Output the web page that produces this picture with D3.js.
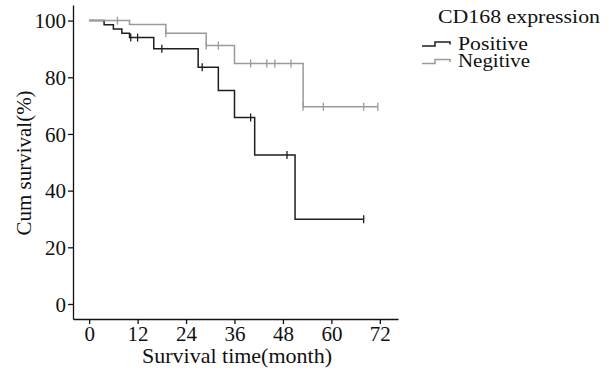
<!DOCTYPE html>
<html>
<head>
<meta charset="utf-8">
<script src="https://cdn.jsdelivr.net/npm/d3@7"></script>
<style>
  body { margin: 0; background: #fff; }
  text { font-family: "Liberation Serif", "Times New Roman", serif; fill: #111; }
</style>
</head>
<body>
<div id="chart"></div>
<script>
// Kaplan-Meier steps (time in months, survival in %)
var posTimes = [3.7, 6, 8.1, 10, 16, 27, 32, 36, 41, 51];
var posSurv = [98.5, 97, 95.5, 94, 90.1, 83.5, 75.3, 65.8, 52.6, 29.9];
var posCensor = [10.3, 12, 18, 28, 40, 49, 68];
var posEnd = 68;

var negTimes = [10, 19, 29, 36, 53];
var negSurv = [98.6, 95.5, 91.2, 84.9, 69.6];
var negCensor = [7, 19, 29, 32, 40, 44, 46, 50, 53, 58, 68, 71.5];
var negEnd = 71.5;

var xTicks = [0, 12, 24, 36, 48, 60, 72];
var yTicks = [0, 20, 40, 60, 80, 100];

var groups = [
  {name: "Positive", times: posTimes, surv: posSurv, censor: posCensor, end: posEnd, color: "#1e1e1e", len: 70},
  {name: "Negitive", times: negTimes, surv: negSurv, censor: negCensor, end: negEnd, color: "#9a9a9a", len: 72}
];

var width = 612, height = 371;

var svg = d3.select("#chart").append("svg")
  .attr("width", width)
  .attr("height", height);

var x = d3.scaleLinear().domain([-4, 76.5]).range([73, 398]);
var y = d3.scaleLinear().domain([-5.3, 105.5]).range([319, 5]);

// axes
var xAxis = svg.append("g")
  .attr("transform", "translate(0," + y(-5.3) + ")")
  .call(d3.axisBottom(x).tickValues(xTicks).tickSize(5).tickSizeOuter(0));
var yAxis = svg.append("g")
  .attr("transform", "translate(" + x(-4) + ",0)")
  .call(d3.axisLeft(y).tickValues(yTicks).tickSize(5).tickSizeOuter(0));

[xAxis, yAxis].forEach(function(a) {
  a.selectAll("path, line").attr("stroke", "#111").attr("stroke-width", 1.3);
  a.selectAll("text")
    .style("font-family", "'Liberation Serif', serif")
    .style("font-size", "21px")
    .attr("fill", "#111");
});
xAxis.selectAll("text").attr("y", 22).attr("dy", 0);
yAxis.selectAll("text").attr("x", -7).attr("dy", "0.34em");

// axis titles
svg.append("text")
  .attr("x", 237)
  .attr("y", 363)
  .attr("text-anchor", "middle")
  .attr("textLength", 190)
  .attr("lengthAdjust", "spacingAndGlyphs")
  .style("font-size", "21px")
  .text("Survival time(month)");

svg.append("text")
  .attr("transform", "translate(31,163) rotate(-90)")
  .attr("text-anchor", "middle")
  .style("font-size", "21px")
  .text("Cum survival(%)");

// step curves
function stepPoints(g) {
  var pts = [[0, 100]];
  var prev = 100;
  g.times.forEach(function(t, i) {
    pts.push([t, prev]);
    pts.push([t, g.surv[i]]);
    prev = g.surv[i];
  });
  pts.push([g.end, prev]);
  return pts;
}

function survAt(g, t) {
  var s = 100;
  g.times.forEach(function(tt, i) { if (tt <= t) s = g.surv[i]; });
  return s;
}

var line = d3.line()
  .x(function(d) { return x(d[0]); })
  .y(function(d) { return y(d[1]); });

// black first, grey drawn over it at 100%
groups.forEach(function(g) {
  svg.append("path")
    .datum(stepPoints(g))
    .attr("fill", "none")
    .attr("stroke", g.color)
    .attr("stroke-width", 1.5)
    .attr("d", line);

  svg.selectAll(null)
    .data(g.censor)
    .enter()
    .append("line")
    .attr("x1", function(d) { return x(d); })
    .attr("x2", function(d) { return x(d); })
    .attr("y1", function(d) { return y(survAt(g, d)) - 4; })
    .attr("y2", function(d) { return y(survAt(g, d)) + 4; })
    .attr("stroke", g.color)
    .attr("stroke-width", 1.3);
});

// legend
svg.append("text")
  .attr("x", 438)
  .attr("y", 22.5)
  .attr("textLength", 162)
  .attr("lengthAdjust", "spacingAndGlyphs")
  .style("font-size", "19px")
  .text("CD168 expression");

groups.forEach(function(g, i) {
  var by = 46 + i * 17.5;
  svg.append("path")
    .attr("d", "M422," + by + "H435V" + (by - 4) + "H450V" + (by - 1.5))
    .attr("fill", "none")
    .attr("stroke", g.color)
    .attr("stroke-width", 1.5);
  svg.append("text")
    .attr("x", 458)
    .attr("y", by + 3.5)
    .attr("textLength", g.len)
    .attr("lengthAdjust", "spacingAndGlyphs")
    .style("font-size", "19px")
    .text(g.name);
});
</script>
</body>
</html>
